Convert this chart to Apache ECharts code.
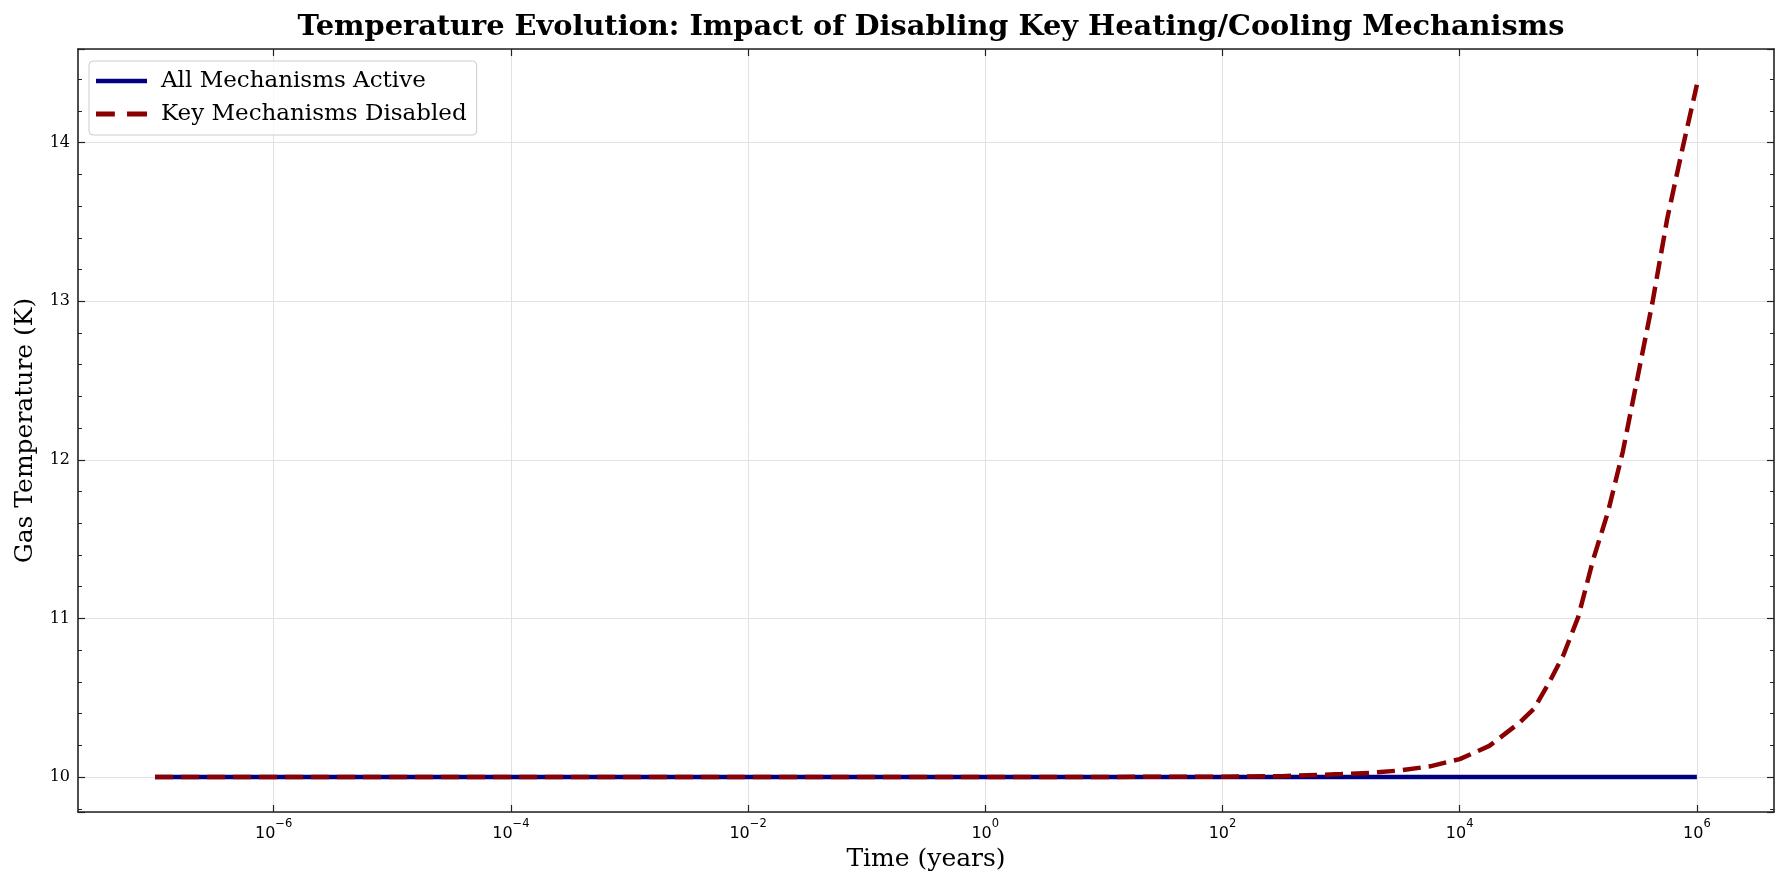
<!DOCTYPE html>
<html>
<head>
<meta charset="utf-8">
<script src="https://cdn.jsdelivr.net/npm/echarts@6/dist/echarts.min.js"></script>
<style>
html,body{margin:0;padding:0;background:#fff;}
#chart{width:1789px;height:889px;}
</style>
</head>
<body>
<div id="chart"></div>
<script>
// ---- data ----
const timeYears = [1e-7, 1e-6, 1e-5, 1e-4, 1e-3, 1e-2, 1e-1, 1, 10, 100, 316, 1000, 1778, 3162, 5623,
  1e4, 17783, 31623, 42170, 56234, 74989, 1e5, 133352, 177828, 237137, 316228, 421697, 562341, 749894, 1e6];
const tempAllActive = [10, 10, 10, 10, 10, 10, 10, 10, 10, 10, 10, 10, 10, 10, 10,
  10, 10, 10, 10, 10, 10, 10, 10, 10, 10, 10, 10, 10, 10, 10];
const tempKeyDisabled = [10, 10, 10, 10, 10, 10, 10, 10, 10.001, 10.003, 10.006, 10.019, 10.027, 10.042, 10.068,
  10.113, 10.197, 10.34, 10.43, 10.59, 10.77, 11.01, 11.37, 11.67, 12.05, 12.52, 12.99, 13.52, 13.95, 14.365];
const xTickValues = [1e-6, 1e-4, 1e-2, 1, 1e2, 1e4, 1e6];
const seriesNames = ['All Mechanisms Active', 'Key Mechanisms Disabled'];
const titleText = 'Temperature Evolution: Impact of Disabling Key Heating/Cooling Mechanisms';
const xAxisName = 'Time (years)';
const yAxisName = 'Gas Temperature (K)';
const xMin = 2.24e-8, xMax = 4.47e6;
const yMin = 9.78, yMax = 14.59;

const pairs = (xs, ys) => xs.map((x, i) => [x, ys[i]]);
const SERIF = "'DejaVu Serif', serif";
const SANS = "'DejaVu Sans', sans-serif";
const spine = {show: true, lineStyle: {color: '#222', width: 1.6}};
const majorTick = {show: true, inside: true, length: 7, customValues: xTickValues,
  lineStyle: {color: '#222', width: 1.2}};

function expLabel(v) {
  const e = Math.round(Math.log10(v));
  const s = e < 0 ? '\u2212' + (-e) : String(e);
  return '{b|10}{s|' + s + '}';
}

const chart = echarts.init(document.getElementById('chart'), null, {renderer: 'canvas'});
chart.setOption({
  animation: false,
  backgroundColor: '#fff',
  title: {
    text: titleText,
    left: 926, top: 8, textAlign: 'center',
    textStyle: {fontFamily: SERIF, fontWeight: 'bold', fontSize: 28.8, color: '#000'}
  },
  legend: {
    data: [
      {name: seriesNames[0], icon: 'path://M0,0H51V4.5H0Z'},
      {name: seriesNames[1], icon: 'path://M0,0H17V4.5H0Z M28,0H46V4.5H28Z'}
    ],
    orient: 'vertical',
    left: 89, top: 61,
    padding: [6, 10, 7, 7],
    itemWidth: 51, itemHeight: 20, itemGap: 5,
    backgroundColor: 'rgba(255,255,255,0.8)',
    borderColor: '#cccccc', borderWidth: 1, borderRadius: 4,
    textStyle: {fontFamily: SERIF, fontSize: 23, color: '#000', lineHeight: 28, padding: [0, 0, 0, 9]}
  },
  grid: {left: 78, right: 15, top: 49, bottom: 77, containLabel: false},
  xAxis: [{
    type: 'log', logBase: 10, min: xMin, max: xMax,
    axisLine: spine,
    axisTick: majorTick,
    minorTick: {show: false},
    splitLine: {show: true, lineStyle: {color: '#e2e2e2', width: 1}},
    axisLabel: {
      customValues: xTickValues, margin: 6,
      formatter: expLabel,
      rich: {
        b: {fontFamily: SANS, fontSize: 16, color: '#000', verticalAlign: 'bottom', lineHeight: 24},
        s: {fontFamily: SANS, fontSize: 11.5, color: '#000', verticalAlign: 'top', lineHeight: 10}
      }
    },
    name: xAxisName, nameLocation: 'middle', nameGap: 35,
    nameTextStyle: {fontFamily: SERIF, fontSize: 25, color: '#000'}
  }, {
    type: 'log', logBase: 10, min: xMin, max: xMax, position: 'top',
    axisLine: spine,
    axisTick: majorTick,
    axisLabel: {show: false}, splitLine: {show: false}
  }],
  yAxis: [{
    type: 'value', min: yMin, max: yMax, splitNumber: 5,
    axisLine: spine,
    axisTick: {show: true, inside: true, length: 7, lineStyle: {color: '#222', width: 1.2}},
    minorTick: {show: true, splitNumber: 5, length: 4, lineStyle: {color: '#222', width: 1}},
    splitLine: {show: true, lineStyle: {color: '#e2e2e2', width: 1}},
    axisLabel: {showMinLabel: false, showMaxLabel: false, margin: 8,
      fontFamily: SERIF, fontSize: 16, color: '#000'},
    name: yAxisName, nameLocation: 'middle', nameGap: 40, nameRotate: 90,
    nameTextStyle: {fontFamily: SERIF, fontSize: 25, color: '#000'}
  }, {
    type: 'value', min: yMin, max: yMax, splitNumber: 5, position: 'right',
    axisLine: spine,
    axisTick: {show: true, inside: true, length: 7, lineStyle: {color: '#222', width: 1.2}},
    minorTick: {show: true, splitNumber: 5, length: 4, lineStyle: {color: '#222', width: 1}},
    splitLine: {show: false}, axisLabel: {show: false}
  }],
  series: [{
    name: seriesNames[0], type: 'line', xAxisIndex: 0, yAxisIndex: 0,
    data: pairs(timeYears, tempAllActive),
    showSymbol: false, symbol: 'none',
    lineStyle: {color: '#000080', width: 4.5, type: 'solid'},
    itemStyle: {color: '#000080'}
  }, {
    name: seriesNames[1], type: 'line', xAxisIndex: 0, yAxisIndex: 0,
    data: pairs(timeYears, tempKeyDisabled),
    showSymbol: false, symbol: 'none',
    lineStyle: {color: '#8B0000', width: 4.5, type: [18, 8]},
    itemStyle: {color: '#8B0000'}
  }]
});
</script>
</body>
</html>
